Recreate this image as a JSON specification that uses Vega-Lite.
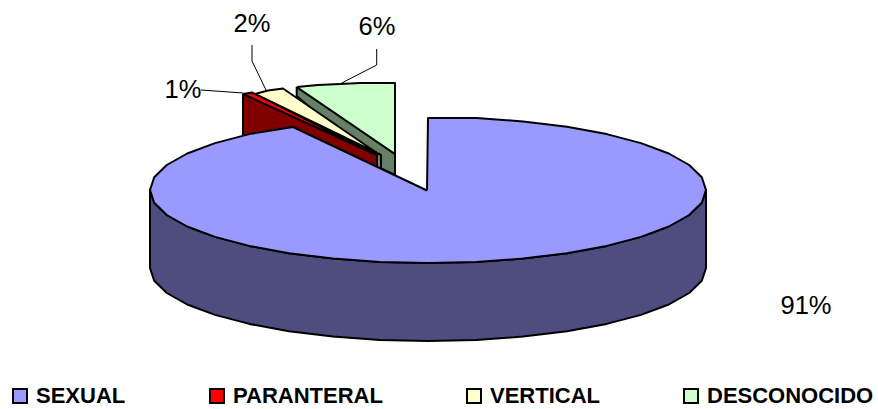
{"$schema":"https://vega.github.io/schema/vega-lite/v6.json","width":878,"height":409,"padding":0,"autosize":{"type":"none"},"background":"white","config":{"view":{"stroke":null}},
"layer":[
{"data":{"name":"caras","values":[
{"cara":"DESCONOCIDO lado","i":0,"x":296.7,"y":87},{"cara":"DESCONOCIDO lado","i":1,"x":395,"y":154},{"cara":"DESCONOCIDO lado","i":2,"x":395,"y":175},{"cara":"DESCONOCIDO lado","i":3,"x":380,"y":168},{"cara":"DESCONOCIDO lado","i":4,"x":296.7,"y":96},{"cara":"DESCONOCIDO lado","i":5,"x":296.7,"y":87},
{"cara":"DESCONOCIDO","i":0,"x":296.7,"y":87},{"cara":"DESCONOCIDO","i":1,"x":318,"y":85},{"cara":"DESCONOCIDO","i":2,"x":340,"y":84},{"cara":"DESCONOCIDO","i":3,"x":360,"y":83},{"cara":"DESCONOCIDO","i":4,"x":395,"y":83},{"cara":"DESCONOCIDO","i":5,"x":395,"y":154},{"cara":"DESCONOCIDO","i":6,"x":296.7,"y":87},
{"cara":"VERTICAL lado","i":0,"x":255,"y":94},{"cara":"VERTICAL lado","i":1,"x":381,"y":155},{"cara":"VERTICAL lado","i":2,"x":381,"y":170},{"cara":"VERTICAL lado","i":3,"x":372,"y":170},{"cara":"VERTICAL lado","i":4,"x":255,"y":100},{"cara":"VERTICAL lado","i":5,"x":255,"y":94},
{"cara":"VERTICAL","i":0,"x":255,"y":94},{"cara":"VERTICAL","i":1,"x":268,"y":90.5},{"cara":"VERTICAL","i":2,"x":283,"y":88.5},{"cara":"VERTICAL","i":3,"x":377,"y":153},{"cara":"VERTICAL","i":4,"x":255,"y":94},
{"cara":"PARANTERAL lado","i":0,"x":243,"y":94},{"cara":"PARANTERAL lado","i":1,"x":377,"y":155},{"cara":"PARANTERAL lado","i":2,"x":377,"y":170},{"cara":"PARANTERAL lado","i":3,"x":300,"y":135},{"cara":"PARANTERAL lado","i":4,"x":243,"y":140},{"cara":"PARANTERAL lado","i":5,"x":243,"y":94},
{"cara":"PARANTERAL","i":0,"x":243,"y":94},{"cara":"PARANTERAL","i":1,"x":252,"y":92.5},{"cara":"PARANTERAL","i":2,"x":377,"y":155},{"cara":"PARANTERAL","i":3,"x":243,"y":94},
{"cara":"SEXUAL lado","i":0,"x":150,"y":190},{"cara":"SEXUAL lado","i":1,"x":154.2,"y":202.7},{"cara":"SEXUAL lado","i":2,"x":166.8,"y":215},{"cara":"SEXUAL lado","i":3,"x":187.2,"y":226.5},{"cara":"SEXUAL lado","i":4,"x":215,"y":236.9},{"cara":"SEXUAL lado","i":5,"x":249.3,"y":245.9},{"cara":"SEXUAL lado","i":6,"x":289,"y":253.2},{"cara":"SEXUAL lado","i":7,"x":332.9,"y":258.6},{"cara":"SEXUAL lado","i":8,"x":379.7,"y":261.9},{"cara":"SEXUAL lado","i":9,"x":428,"y":263},{"cara":"SEXUAL lado","i":10,"x":476.3,"y":261.9},{"cara":"SEXUAL lado","i":11,"x":523.1,"y":258.6},{"cara":"SEXUAL lado","i":12,"x":567,"y":253.2},{"cara":"SEXUAL lado","i":13,"x":606.7,"y":245.9},{"cara":"SEXUAL lado","i":14,"x":641,"y":236.9},{"cara":"SEXUAL lado","i":15,"x":668.8,"y":226.5},{"cara":"SEXUAL lado","i":16,"x":689.2,"y":215},{"cara":"SEXUAL lado","i":17,"x":701.8,"y":202.7},{"cara":"SEXUAL lado","i":18,"x":706,"y":190},
{"cara":"SEXUAL lado","i":19,"x":706,"y":268},{"cara":"SEXUAL lado","i":20,"x":701.8,"y":280.7},{"cara":"SEXUAL lado","i":21,"x":689.2,"y":293},{"cara":"SEXUAL lado","i":22,"x":668.8,"y":304.5},{"cara":"SEXUAL lado","i":23,"x":641,"y":314.9},{"cara":"SEXUAL lado","i":24,"x":606.7,"y":323.9},{"cara":"SEXUAL lado","i":25,"x":567,"y":331.2},{"cara":"SEXUAL lado","i":26,"x":523.1,"y":336.6},{"cara":"SEXUAL lado","i":27,"x":476.3,"y":339.9},{"cara":"SEXUAL lado","i":28,"x":428,"y":341},{"cara":"SEXUAL lado","i":29,"x":379.7,"y":339.9},{"cara":"SEXUAL lado","i":30,"x":332.9,"y":336.6},{"cara":"SEXUAL lado","i":31,"x":289,"y":331.2},{"cara":"SEXUAL lado","i":32,"x":249.3,"y":323.9},{"cara":"SEXUAL lado","i":33,"x":215,"y":314.9},{"cara":"SEXUAL lado","i":34,"x":187.2,"y":304.5},{"cara":"SEXUAL lado","i":35,"x":166.8,"y":293},{"cara":"SEXUAL lado","i":36,"x":154.2,"y":280.7},{"cara":"SEXUAL lado","i":37,"x":150,"y":268},{"cara":"SEXUAL lado","i":38,"x":150,"y":190},
{"cara":"SEXUAL","i":0,"x":427,"y":190.5},{"cara":"SEXUAL","i":1,"x":428,"y":118},{"cara":"SEXUAL","i":2,"x":476.3,"y":118.1},{"cara":"SEXUAL","i":3,"x":523.1,"y":121.4},{"cara":"SEXUAL","i":4,"x":567,"y":126.8},{"cara":"SEXUAL","i":5,"x":606.7,"y":134.1},{"cara":"SEXUAL","i":6,"x":641,"y":143.1},{"cara":"SEXUAL","i":7,"x":668.8,"y":153.5},{"cara":"SEXUAL","i":8,"x":689.2,"y":165},{"cara":"SEXUAL","i":9,"x":701.8,"y":177.3},{"cara":"SEXUAL","i":10,"x":706,"y":190},{"cara":"SEXUAL","i":11,"x":701.8,"y":202.7},{"cara":"SEXUAL","i":12,"x":689.2,"y":215},{"cara":"SEXUAL","i":13,"x":668.8,"y":226.5},{"cara":"SEXUAL","i":14,"x":641,"y":236.9},{"cara":"SEXUAL","i":15,"x":606.7,"y":245.9},{"cara":"SEXUAL","i":16,"x":567,"y":253.2},{"cara":"SEXUAL","i":17,"x":523.1,"y":258.6},{"cara":"SEXUAL","i":18,"x":476.3,"y":261.9},{"cara":"SEXUAL","i":19,"x":428,"y":263},{"cara":"SEXUAL","i":20,"x":379.7,"y":261.9},{"cara":"SEXUAL","i":21,"x":332.9,"y":258.6},{"cara":"SEXUAL","i":22,"x":289,"y":253.2},{"cara":"SEXUAL","i":23,"x":249.3,"y":245.9},{"cara":"SEXUAL","i":24,"x":215,"y":236.9},{"cara":"SEXUAL","i":25,"x":187.2,"y":226.5},{"cara":"SEXUAL","i":26,"x":166.8,"y":215},{"cara":"SEXUAL","i":27,"x":154.2,"y":202.7},{"cara":"SEXUAL","i":28,"x":150,"y":190},{"cara":"SEXUAL","i":29,"x":154.2,"y":177.3},{"cara":"SEXUAL","i":30,"x":166.8,"y":165},{"cara":"SEXUAL","i":31,"x":187.2,"y":153.5},{"cara":"SEXUAL","i":32,"x":215,"y":143.1},{"cara":"SEXUAL","i":33,"x":249.3,"y":134.1},{"cara":"SEXUAL","i":34,"x":293,"y":127},{"cara":"SEXUAL","i":35,"x":427,"y":190.5}
]},
"mark":{"type":"line","stroke":"black","strokeWidth":2,"strokeJoin":"round","interpolate":"linear"},
"encoding":{
"x":{"field":"x","type":"quantitative","scale":{"domain":[0,878]},"axis":null},
"y":{"field":"y","type":"quantitative","scale":{"domain":[409,0]},"axis":null},
"order":{"field":"i","type":"ordinal"},
"fill":{"field":"cara","type":"nominal","sort":null,"scale":{"domain":["SEXUAL","PARANTERAL","VERTICAL","DESCONOCIDO","SEXUAL lado","PARANTERAL lado","VERTICAL lado","DESCONOCIDO lado"],"range":["#9999FF","#FF0000","#FFFFCC","#CCFFCC","#4D4D80","#800000","#808066","#668066"]},
"legend":{"orient":"none","legendX":9,"legendY":385,"direction":"horizontal","columns":4,"title":null,"values":["SEXUAL","PARANTERAL","VERTICAL","DESCONOCIDO"],"columnPadding":80,"gridAlign":"each","symbolType":"square","symbolSize":196,"symbolStrokeColor":"black","symbolStrokeWidth":2,"labelFont":"Liberation Sans","labelFontSize":22,"labelFontWeight":"bold","labelColor":"black","labelOffset":5,"labelLimit":300}}
}},
{"data":{"values":[
{"guia":"1%","i":0,"x":201,"y":90},{"guia":"1%","i":1,"x":243,"y":93},
{"guia":"2%","i":0,"x":252,"y":45},{"guia":"2%","i":1,"x":252,"y":61},{"guia":"2%","i":2,"x":266,"y":90},
{"guia":"6%","i":0,"x":376.7,"y":49},{"guia":"6%","i":1,"x":376.7,"y":65},{"guia":"6%","i":2,"x":341.7,"y":83}
]},
"mark":{"type":"line","stroke":"black","strokeWidth":1},
"encoding":{"x":{"field":"x","type":"quantitative","scale":{"domain":[0,878]},"axis":null},"y":{"field":"y","type":"quantitative","scale":{"domain":[409,0]},"axis":null},"detail":{"field":"guia"},"order":{"field":"i","type":"ordinal"}}},
{"data":{"values":[
{"etiqueta":"91%","x":806,"y":306},{"etiqueta":"6%","x":377,"y":27},{"etiqueta":"2%","x":252,"y":24},{"etiqueta":"1%","x":183,"y":90}
]},
"mark":{"type":"text","font":"Liberation Sans","fontSize":25.5,"color":"black","align":"center","baseline":"middle"},
"encoding":{"x":{"field":"x","type":"quantitative","scale":{"domain":[0,878]},"axis":null},"y":{"field":"y","type":"quantitative","scale":{"domain":[409,0]},"axis":null},"text":{"field":"etiqueta"}}}
]}
